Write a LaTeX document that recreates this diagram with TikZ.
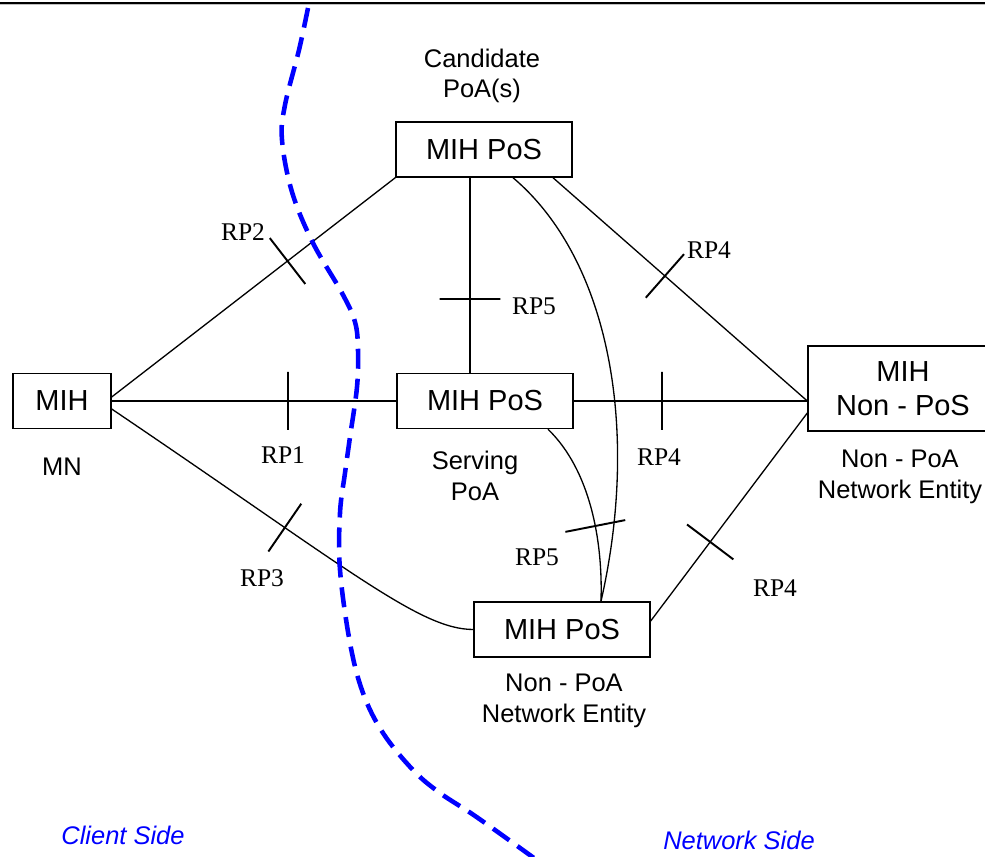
\documentclass[tikz,border=0pt]{standalone}
\usepackage{fontspec}
\setmainfont{Liberation Sans}
\newfontfamily\rpfont{Liberation Serif}
\usepackage{xcolor}
\usepackage{tikz}
\usetikzlibrary{positioning,calc}
\definecolor{sideblue}{RGB}{0,0,255}

\tikzset{
  posbox/.style={draw,line width=0.8pt,minimum width=3.52cm,minimum height=1.1cm,
                 inner sep=0pt,align=center,font=\fontsize{16.5}{19}\selectfont},
  sublabel/.style={align=center,font=\fontsize{14.5}{17.5}\selectfont},
  rplabel/.style={font=\rpfont\fontsize{14.5}{17}\selectfont},
  sidelabel/.style={text=sideblue,font=\itshape\fontsize{14.5}{17}\selectfont},
  link/.style={line width=0.75pt},
  rpmark/.style={draw,sloped,line width=1.1pt,minimum width=0pt,
                 minimum height=1.16cm,inner sep=0pt,outer sep=0pt}
}

\begin{document}
\begin{tikzpicture}[x=0.02cm,y=-0.02cm]
\useasboundingbox (0,0) rectangle (985,857);
% page rule
\draw[gray!50,line width=0.6pt] (0,4.8) -- (985,4.8);
\draw[line width=1.4pt] (0,2.8) -- (985,2.8);
% entities
\node[posbox] (cand) at (484,149.5) {MIH PoS};
\node[posbox] (serv) at (485,401) {MIH PoS};
\node[posbox] (nonpoa) at (562,629.5) {MIH PoS};
\node[posbox,minimum width=1.96cm] (mih) at (62,401) {MIH};
\node[posbox,minimum width=3.8cm,minimum height=1.7cm] (nonpos) at (903,388.5) {MIH\\Non - PoS};
\coordinate (hub) at (nonpos.west |- serv.east);
% captions
\node[sublabel] (candlbl) at (482,76) {Candidate\\PoA(s)};
\node[sublabel] (mnlbl) at (62,467) {MN};
\node[sublabel] (servlbl) at (475,476) {Serving\\PoA};
\node[sublabel] (nonpoalbl) at (564,701) {Non - PoA\\Network Entity};
\node[sublabel] (nonposlbl) at (900,477) {Non - PoA\\Network Entity};
% reference points from the MN
\draw[link] ([yshift=0.08cm]mih.east) -- node[rpmark,pos=0.62] {} (cand.south west);
\draw[link] (mih.east) -- node[rpmark,pos=0.62] {} (serv.west);
\draw[link] ([yshift=-0.16cm]mih.east) .. controls (350,570) and (420,629.5) .. node[rpmark,pos=0.3] {} (nonpoa.west);
% links between PoS
\draw[link] ([xshift=-0.28cm]cand.south) -- node[rpmark,pos=0.62,minimum height=1.22cm] {} ([xshift=-0.28cm]cand.south |- serv.north);
\draw[link] ([xshift=0.58cm]cand.south) .. controls (610,260) and (640,430) .. ([xshift=0.78cm]nonpoa.north);
\draw[link] ([xshift=1.26cm]serv.south) .. controls (590,470) and (603,540) .. node[rpmark,pos=0.6,minimum height=1.22cm] {} ([xshift=0.78cm]nonpoa.north);
% links to the non-PoS
\draw[link] ([xshift=1.38cm]cand.south) -- node[rpmark,pos=0.44] {} (hub);
\draw[link] (serv.east) -- node[rpmark,pos=0.377] {} (hub);
\draw[link] ([yshift=0.17cm]nonpoa.east) -- node[rpmark,pos=0.38] {} ([yshift=-0.24cm]hub);
% RP names
\node[rplabel] (rp1) at (283,455) {RP1};
\node[rplabel] (rp2) at (243,232) {RP2};
\node[rplabel] (rp3) at (262,578) {RP3};
\node[rplabel] (rp4a) at (709,250) {RP4};
\node[rplabel] (rp4b) at (659,457) {RP4};
\node[rplabel] (rp4c) at (775,588) {RP4};
\node[rplabel] (rp5a) at (534,306) {RP5};
\node[rplabel] (rp5b) at (537,557) {RP5};
% client / network border
\draw[sideblue,line width=2.6pt,dash pattern=on 0.4cm off 0.2cm]
  plot[smooth,tension=0.6] coordinates {(308,8) (299,50) (285,105) (282,140) (292,192)
  (313,243) (342,293) (355,322) (358,350) (357,387) (350,437) (345,473) (340,513)
  (340,570) (350,643) (363,693) (383,733) (413,770) (440,793) (478,818) (545,866)};
\node[sidelabel] (client) at (123,835) {Client Side};
\node[sidelabel] (network) at (739,840) {Network Side};
\end{tikzpicture}
\end{document}
